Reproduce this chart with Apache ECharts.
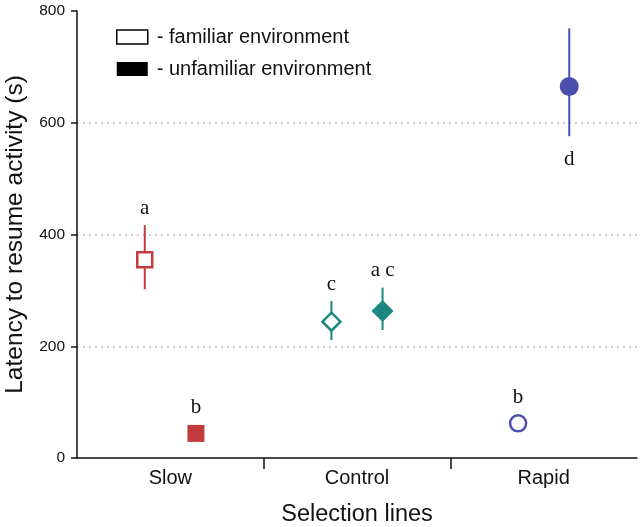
<!DOCTYPE html>
<html>
<head>
<meta charset="utf-8">
<script src="https://cdn.jsdelivr.net/npm/echarts@6/dist/echarts.min.js"></script>
<style>
  html, body { margin: 0; padding: 0; background: #fff; }
  #chart { width: 642px; height: 527px; }
</style>
</head>
<body>
<div id="chart"></div>
<script>
// ---- data ----
const categories = ['Slow', 'Control', 'Rapid'];
const yTicks = [0, 200, 400, 600, 800];

const familiarMean = [355, 244, 62];
const familiarLow  = [302, 211, 50];
const familiarHigh = [417, 281, 74];
const familiarLetters = ['a', 'c', 'b'];

const unfamiliarMean = [44, 263, 665];
const unfamiliarLow  = [35, 229, 576];
const unfamiliarHigh = [53, 305, 769];
const unfamiliarLetters = ['b', 'a c', 'd'];
const unfamiliarLetterBelow = [false, false, true];

// ---- styles ----
const groupColors = ['#c33c3d', '#1b8780', '#4a4fab'];
const openSymbols = [['rect', [15, 15]], ['diamond', [18, 18]], ['circle', [16, 16]]];
const fillSymbols = [['rect', [17, 17]], ['diamond', [22, 22]], ['circle', [19, 19]]];
const OFFSET = 0.137;
const SANS = 'Liberation Sans, Arial, Helvetica, sans-serif';
const SERIF = 'Liberation Serif, Times New Roman, serif';

const FAM = '- familiar environment';
const UNF = '- unfamiliar environment';

const famData = categories.map((c, i) => ({
  value: [i + 0.5 - OFFSET, familiarMean[i]],
  symbol: openSymbols[i][0],
  symbolSize: openSymbols[i][1],
  itemStyle: { color: '#fff', borderColor: groupColors[i], borderWidth: 2.5, opacity: 1 }
}));
const unfData = categories.map((c, i) => ({
  value: [i + 0.5 + OFFSET, unfamiliarMean[i]],
  symbol: fillSymbols[i][0],
  symbolSize: fillSymbols[i][1],
  itemStyle: { color: groupColors[i], borderWidth: 0, opacity: 1 }
}));

// error bar + letter rows: [x, mean, lo, hi, group, cond]
const barRows = [];
const barLetters = [];
const barBelow = [];
const barHalf = [];
categories.forEach((c, i) => {
  barRows.push([i + 0.5 - OFFSET, familiarMean[i], familiarLow[i], familiarHigh[i], i, 0]);
  barLetters.push(familiarLetters[i]); barBelow.push(false);
  barHalf.push((openSymbols[i][1][1] + 2.5) / 2);
  barRows.push([i + 0.5 + OFFSET, unfamiliarMean[i], unfamiliarLow[i], unfamiliarHigh[i], i, 1]);
  barLetters.push(unfamiliarLetters[i]); barBelow.push(unfamiliarLetterBelow[i]);
  barHalf.push(fillSymbols[i][1][1] / 2);
});

function renderBar(params, api) {
  const idx = params.dataIndex;
  const x = api.value(0), mean = api.value(1), lo = api.value(2), hi = api.value(3), g = api.value(4);
  const pHi = api.coord([x, hi]);
  const pLo = api.coord([x, lo]);
  const pM = api.coord([x, mean]);
  const col = groupColors[g];
  const top = Math.min(pHi[1], pM[1] - barHalf[idx]);
  const bot = Math.max(pLo[1], pM[1] + barHalf[idx]);
  const ly = barBelow[idx] ? bot + 23 : top - 17;
  return {
    type: 'group',
    children: [
      { type: 'line', shape: { x1: pHi[0], y1: pHi[1], x2: pLo[0], y2: pLo[1] },
        style: { stroke: col, lineWidth: 2 } },
      { type: 'text', x: pM[0], y: ly,
        style: { text: barLetters[idx], font: '21px ' + SERIF, fill: '#111',
                 align: 'center', verticalAlign: 'middle' } }
    ]
  };
}

const chart = echarts.init(document.getElementById('chart'), null, { renderer: 'canvas' });
chart.setOption({
  animation: false,
  backgroundColor: '#fff',
  grid: { left: 77, right: 5, top: 11, bottom: 69, containLabel: false, outerBoundsMode: 'none' },
  legend: {
    orient: 'vertical',
    left: 116, top: 27,
    padding: 0,
    itemGap: 12,
    itemWidth: 31, itemHeight: 14,
    selectedMode: false,
    textStyle: { fontFamily: SANS, fontSize: 20, color: '#111', padding: [0, 0, 0, 4] },
    data: [
      { name: FAM, icon: 'rect', itemStyle: { color: '#fff', borderColor: '#000', borderWidth: 1.5, opacity: 1 } },
      { name: UNF, icon: 'rect', itemStyle: { color: '#000', borderWidth: 0, opacity: 1 } }
    ]
  },
  xAxis: {
    type: 'value', min: 0, max: 3,
    name: 'Selection lines', nameLocation: 'middle', nameGap: 45,
    nameTextStyle: { fontFamily: SANS, fontSize: 23.5, color: '#111' },
    axisLine: { show: true, lineStyle: { color: '#111', width: 1.5 } },
    axisTick: { show: true, customValues: [1, 2], length: 11, lineStyle: { color: '#111', width: 1.5 } },
    axisLabel: {
      customValues: [0.5, 1.5, 2.5],
      formatter: v => categories[Math.floor(v)],
      fontFamily: SANS, fontSize: 20, color: '#111', margin: 10
    },
    splitLine: { show: false }
  },
  yAxis: {
    type: 'value', min: yTicks[0], max: yTicks[yTicks.length - 1], interval: yTicks[1] - yTicks[0],
    name: 'Latency to resume activity (s)', nameLocation: 'middle', nameGap: 49,
    nameTextStyle: { fontFamily: SANS, fontSize: 24.5, color: '#111' },
    axisLine: { show: true, lineStyle: { color: '#111', width: 1.5 } },
    axisTick: { show: true, length: 6, lineStyle: { color: '#111', width: 1.5 } },
    axisLabel: { fontFamily: SANS, fontSize: 15.5, color: '#111', margin: 12 },
    splitLine: { show: true, showMinLine: false, showMaxLine: false,
                 lineStyle: { color: '#bdbdbd', width: 1.5, type: [2, 4] } }
  },
  series: [
    { type: 'custom', name: 'bars', renderItem: renderBar, data: barRows,
      encode: { x: 0, y: 1 }, z: 1, silent: true },
    { type: 'scatter', name: FAM, data: famData, z: 3,
      itemStyle: { color: '#fff', borderColor: '#000', opacity: 1 } },
    { type: 'scatter', name: UNF, data: unfData, z: 3,
      itemStyle: { color: '#000', opacity: 1 } }
  ]
});
</script>
</body>
</html>
